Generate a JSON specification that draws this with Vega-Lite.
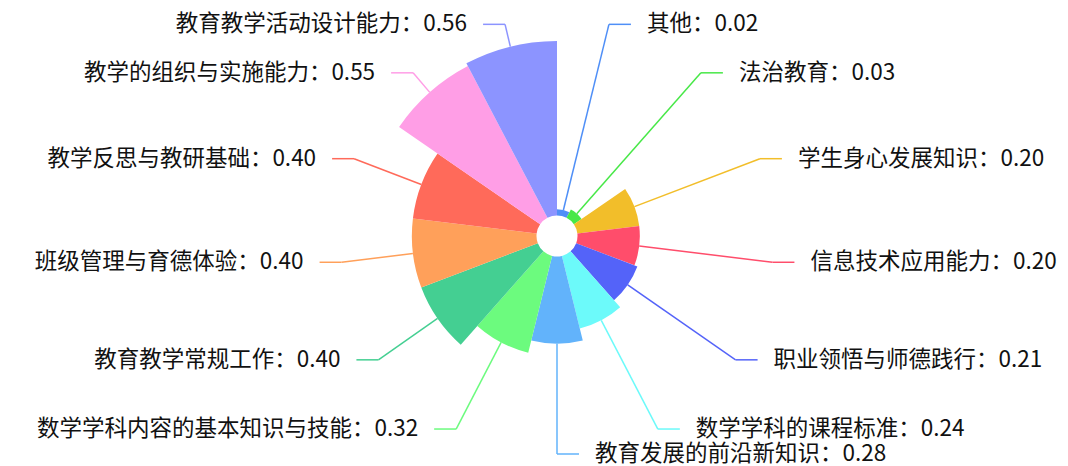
{
  "$schema": "https://vega.github.io/schema/vega-lite/v6.json",
  "width": 1068,
  "height": 466,
  "autosize": "none",
  "padding": 0,
  "background": "#ffffff",
  "config": {"view": {"stroke": null}},
  "data": {
    "values": [
      {"cat": "其他", "value": 0.02},
      {"cat": "法治教育", "value": 0.03},
      {"cat": "学生身心发展知识", "value": 0.20},
      {"cat": "信息技术应用能力", "value": 0.20},
      {"cat": "职业领悟与师德践行", "value": 0.21},
      {"cat": "数学学科的课程标准", "value": 0.24},
      {"cat": "教育发展的前沿新知识", "value": 0.28},
      {"cat": "数学学科内容的基本知识与技能", "value": 0.32},
      {"cat": "教育教学常规工作", "value": 0.40},
      {"cat": "班级管理与育德体验", "value": 0.40},
      {"cat": "教学反思与教研基础", "value": 0.40},
      {"cat": "教学的组织与实施能力", "value": 0.55},
      {"cat": "教育教学活动设计能力", "value": 0.56}
    ]
  },
  "transform": [
    {"window": [{"op": "row_number", "as": "i"}]},
    {"calculate": "(datum.i-1)*2*PI/13", "as": "a0"},
    {"calculate": "datum.i*2*PI/13", "as": "a1"},
    {"calculate": "(datum.i-0.5)*2*PI/13", "as": "am"},
    {"calculate": "20.5+174.5*datum.value/0.56", "as": "r"},
    {"calculate": "datum.i<=7?1:-1", "as": "side"},
    {"calculate": "datum.r*sin(datum.am)", "as": "ex"},
    {"calculate": "datum.r*cos(datum.am)", "as": "ey"},
    {"calculate": "217*sin(datum.am)", "as": "bx"},
    {"calculate": "218*cos(datum.am)", "as": "by"},
    {"calculate": "datum.bx+22*datum.side", "as": "hx"},
    {"calculate": "datum.hx+16*datum.side", "as": "tx"},
    {"calculate": "datum.cat+'：'+format(datum.value,'.2f')", "as": "label"}
  ],
  "encoding": {
    "color": {
      "field": "cat",
      "type": "nominal",
      "legend": null,
      "scale": {
        "domain": ["其他", "法治教育", "学生身心发展知识", "信息技术应用能力", "职业领悟与师德践行", "数学学科的课程标准", "教育发展的前沿新知识", "数学学科内容的基本知识与技能", "教育教学常规工作", "班级管理与育德体验", "教学反思与教研基础", "教学的组织与实施能力", "教育教学活动设计能力"],
        "range": ["#4f8ff7", "#47e847", "#f2be2a", "#ff4d6b", "#5463f9", "#6cfafa", "#62b3fb", "#6cfb7e", "#44cf92", "#ffa05a", "#ff6a5a", "#ff9ee6", "#8c94ff"]
      }
    }
  },
  "layer": [
    {
      "mark": {"type": "arc", "radius2": 20.5},
      "encoding": {
        "x": {"datum": 0, "type": "quantitative", "scale": {"domain": [-557, 511], "nice": false, "zero": false}, "axis": null},
        "y": {"datum": 0, "type": "quantitative", "scale": {"domain": [-230, 236], "nice": false, "zero": false}, "axis": null},
        "theta": {"field": "a0", "type": "quantitative", "scale": null, "stack": null},
        "theta2": {"field": "a1"},
        "radius": {"field": "value", "type": "quantitative", "scale": {"type": "linear", "domain": [0, 0.56], "range": [20.5, 195], "zero": false, "nice": false}}
      }
    },
    {
      "mark": {"type": "rule", "strokeWidth": 1.5},
      "encoding": {
        "x": {"field": "ex", "type": "quantitative", "scale": {"domain": [-557, 511], "nice": false, "zero": false}, "axis": null},
        "y": {"field": "ey", "type": "quantitative", "scale": {"domain": [-230, 236], "nice": false, "zero": false}, "axis": null},
        "x2": {"field": "bx"},
        "y2": {"field": "by"}
      }
    },
    {
      "mark": {"type": "rule", "strokeWidth": 1.5},
      "encoding": {
        "x": {"field": "bx", "type": "quantitative", "axis": null},
        "y": {"field": "by", "type": "quantitative", "axis": null},
        "x2": {"field": "hx"},
        "y2": {"field": "by"}
      }
    },
    {
      "transform": [{"filter": "datum.side > 0"}],
      "mark": {"type": "text", "align": "left", "baseline": "middle", "font": "Noto Sans CJK SC", "fontSize": 22.5, "fill": "#111111"},
      "encoding": {
        "x": {"field": "tx", "type": "quantitative", "axis": null},
        "y": {"field": "by", "type": "quantitative", "axis": null},
        "text": {"field": "label"},
        "color": {"value": "#111111"}
      }
    },
    {
      "transform": [{"filter": "datum.side < 0"}],
      "mark": {"type": "text", "align": "right", "baseline": "middle", "font": "Noto Sans CJK SC", "fontSize": 22.5, "fill": "#111111"},
      "encoding": {
        "x": {"field": "tx", "type": "quantitative", "axis": null},
        "y": {"field": "by", "type": "quantitative", "axis": null},
        "text": {"field": "label"},
        "color": {"value": "#111111"}
      }
    }
  ]
}
